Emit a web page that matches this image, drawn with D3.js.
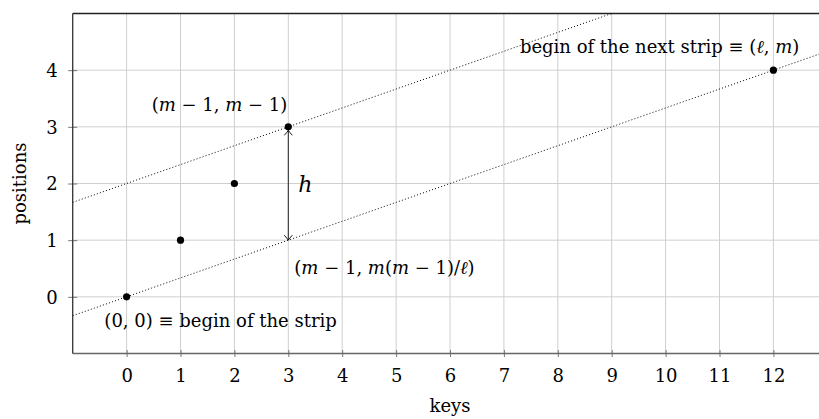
<!DOCTYPE html>
<html>
<head>
<meta charset="utf-8">
<script src="https://cdn.jsdelivr.net/npm/d3@7/dist/d3.min.js"></script>
<style>
  body { margin: 0; background: #fff; }
  text { font-family: "DejaVu Serif", "Liberation Serif", serif; fill: #000; }
  .math { font-style: italic; }
</style>
</head>
<body>
<div id="chart-container"></div>
<script>
// keys / positions of the marked points
const keys = [0, 1, 2, 3, 12];
const positions = [0, 1, 2, 3, 4];

// tick labels
const xTicks = [0, 1, 2, 3, 4, 5, 6, 7, 8, 9, 10, 11, 12];
const yTicks = [0, 1, 2, 3, 4];

// dotted strip borders (slope m/l = 1/3)
const stripLines = [
  { x0: -1, y0: -1 / 3, x1: 13, y1: 13 / 3 },
  { x0: -1, y0: 5 / 3, x1: 13, y1: 19 / 3 }
];

// height arrow h
const arrowFrom = { x: 3, y: 3 };
const arrowTo = { x: 3, y: 1 };

const width = 819, height = 419;
const margin = { left: 72.7, right: -8.3, top: 13.5, bottom: 65.5 };

const svg = d3.select("#chart-container")
  .append("svg")
  .attr("width", width)
  .attr("height", height);

const xScale = d3.scaleLinear()
  .domain([-1, 13])
  .range([margin.left, width - margin.right]);

const yScale = d3.scaleLinear()
  .domain([-1, 5])
  .range([height - margin.bottom, margin.top]);

const defs = svg.append("defs");
defs.append("clipPath").attr("id", "plot-clip")
  .append("rect")
  .attr("x", xScale(-1))
  .attr("y", yScale(5))
  .attr("width", xScale(13) - xScale(-1))
  .attr("height", yScale(-1) - yScale(5));

// open arrowhead like tikz "->"
defs.append("marker")
  .attr("id", "tip")
  .attr("viewBox", "-6 -5 8 10")
  .attr("refX", 0)
  .attr("refY", 0)
  .attr("markerWidth", 8)
  .attr("markerHeight", 10)
  .attr("markerUnits", "userSpaceOnUse")
  .attr("orient", "auto-start-reverse")
  .append("path")
  .attr("d", "M-5,-4 Q-1.5,-1 0,0 Q-1.5,1 -5,4")
  .attr("fill", "none")
  .attr("stroke", "#000")
  .attr("stroke-width", 0.9);

// grid
const grid = svg.append("g").attr("class", "grid");
grid.selectAll("line.vgrid")
  .data(xTicks)
  .enter().append("line")
  .attr("x1", d => xScale(d)).attr("x2", d => xScale(d))
  .attr("y1", yScale(-1)).attr("y2", yScale(5))
  .attr("stroke", "#cfcfcf").attr("stroke-width", 1);
grid.selectAll("line.hgrid")
  .data(yTicks)
  .enter().append("line")
  .attr("x1", xScale(-1)).attr("x2", xScale(13))
  .attr("y1", d => yScale(d)).attr("y2", d => yScale(d))
  .attr("stroke", "#cfcfcf").attr("stroke-width", 1);

// axes
const xAxis = d3.axisBottom(xScale)
  .tickValues(xTicks)
  .tickSize(0)
  .tickPadding(16)
  .tickFormat(d3.format("d"));
const yAxis = d3.axisLeft(yScale)
  .tickValues(yTicks)
  .tickSize(0)
  .tickPadding(15)
  .tickFormat(d3.format("d"));

const gx = svg.append("g")
  .attr("transform", `translate(0,${yScale(-1)})`)
  .call(xAxis);
gx.select(".domain").remove();
gx.selectAll(".tick text").attr("font-size", "18px").attr("dy", "0.72em")
  .attr("font-family", "DejaVu Serif");
gx.selectAll(".tick").append("line")
  .attr("y1", -3.5).attr("y2", 3.5)
  .attr("stroke", "#777").attr("stroke-width", 1);

const gy = svg.append("g")
  .attr("transform", `translate(${xScale(-1)},0)`)
  .call(yAxis);
gy.select(".domain").remove();
gy.selectAll(".tick text").attr("font-size", "18px").attr("dy", "0.36em")
  .attr("font-family", "DejaVu Serif");
gy.selectAll(".tick").append("line")
  .attr("x1", -4.5).attr("x2", 4.5)
  .attr("stroke", "#777").attr("stroke-width", 1);

// frame lines
svg.append("line")
  .attr("x1", xScale(-1)).attr("x2", xScale(13))
  .attr("y1", yScale(-1)).attr("y2", yScale(-1))
  .attr("stroke", "#666").attr("stroke-width", 1.6);
svg.append("line")
  .attr("x1", xScale(-1)).attr("x2", xScale(-1))
  .attr("y1", yScale(-1)).attr("y2", yScale(5))
  .attr("stroke", "#333").attr("stroke-width", 1.3);
svg.append("line")
  .attr("x1", xScale(-1)).attr("x2", xScale(13))
  .attr("y1", yScale(5)).attr("y2", yScale(5))
  .attr("stroke", "#222").attr("stroke-width", 1.3);

// axis labels
svg.append("text")
  .attr("x", (xScale(-1) + xScale(13)) / 2)
  .attr("y", 412)
  .attr("text-anchor", "middle")
  .attr("font-size", "18px")
  .text("keys");
svg.append("text")
  .attr("transform", `translate(26,${(yScale(-1) + yScale(5)) / 2}) rotate(-90)`)
  .attr("text-anchor", "middle")
  .attr("font-size", "18px")
  .text("positions");

// dotted strip borders
svg.append("g")
  .attr("clip-path", "url(#plot-clip)")
  .selectAll("line.strip")
  .data(stripLines)
  .enter().append("line")
  .attr("x1", d => xScale(d.x0)).attr("y1", d => yScale(d.y0))
  .attr("x2", d => xScale(d.x1)).attr("y2", d => yScale(d.y1))
  .attr("stroke", "#000")
  .attr("stroke-width", 1)
  .attr("stroke-dasharray", "1,2.2");

// arrow h
svg.append("line")
  .attr("x1", xScale(arrowFrom.x)).attr("y1", yScale(arrowFrom.y) + 3.5)
  .attr("x2", xScale(arrowTo.x)).attr("y2", yScale(arrowTo.y))
  .attr("stroke", "#222")
  .attr("stroke-width", 1)
  .attr("marker-start", "url(#tip)")
  .attr("marker-end", "url(#tip)");

svg.append("text")
  .attr("class", "math")
  .attr("x", xScale(arrowFrom.x) + 10)
  .attr("y", yScale((arrowFrom.y + arrowTo.y) / 2) + 8)
  .attr("font-size", "22px")
  .text("h");

// points
const points = keys.map((k, i) => ({ x: k, y: positions[i] }));
svg.selectAll("circle.point")
  .data(points)
  .enter().append("circle")
  .attr("class", "point")
  .attr("cx", d => xScale(d.x))
  .attr("cy", d => yScale(d.y))
  .attr("r", 3.6)
  .attr("fill", "#000");

// annotations, built from tspans so the math parts are italic
function label(x, y, anchor, parts) {
  const t = svg.append("text")
    .attr("x", x).attr("y", y)
    .attr("text-anchor", anchor)
    .attr("font-size", "18px");
  parts.forEach(p => {
    t.append("tspan")
      .attr("class", p[1] ? "math" : null)
      .text(p[0]);
  });
  return t;
}

label(xScale(3) - 1, yScale(3) - 16, "end",
  [["(", 0], ["m", 1], [" \u2212 1, ", 0], ["m", 1], [" \u2212 1)", 0]]);

label(xScale(12) + 26, yScale(4) - 17, "end",
  [["begin of the next strip \u2261 (", 0], ["\u2113", 1], [", ", 0], ["m", 1], [")", 0]]);

label(xScale(3) + 6, yScale(1) + 34, "start",
  [["(", 0], ["m", 1], [" \u2212 1, ", 0], ["m", 1], ["(", 0], ["m", 1], [" \u2212 1)/", 0], ["\u2113", 1], [")", 0]]);

label(xScale(0) + 94, yScale(0) + 30, "middle",
  [["(0, 0) \u2261 begin of the strip", 0]]);
</script>
</body>
</html>
